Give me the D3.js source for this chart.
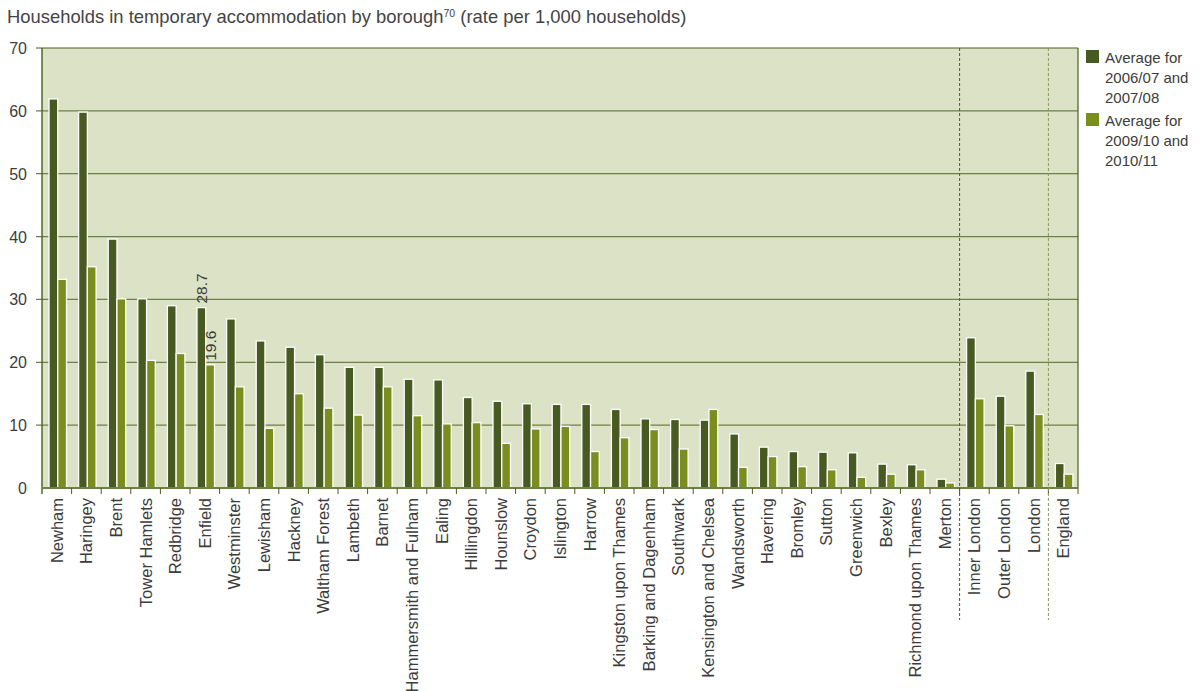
<!DOCTYPE html>
<html>
<head>
<meta charset="utf-8">
<script src="https://cdn.jsdelivr.net/npm/d3@7"></script>
<style>
  body { margin: 0; background: #fff; }
  text { font-family: "Liberation Sans", Arial, sans-serif; fill: #3c3c3c; }
</style>
</head>
<body>
<div id="chart"></div>
<script>
// Data
var boroughs = ["Newham", "Haringey", "Brent", "Tower Hamlets", "Redbridge", "Enfield",
    "Westminster", "Lewisham", "Hackney", "Waltham Forest", "Lambeth", "Barnet",
    "Hammersmith and Fulham", "Ealing", "Hillingdon", "Hounslow", "Croydon", "Islington",
    "Harrow", "Kingston upon Thames", "Barking and Dagenham", "Southwark",
    "Kensington and Chelsea", "Wandsworth", "Havering", "Bromley", "Sutton", "Greenwich",
    "Bexley", "Richmond upon Thames", "Merton", "Inner London", "Outer London", "London",
    "England"];
var avg0708 = [61.9, 59.8, 39.6, 30.1, 29.0, 28.7, 26.9, 23.4, 22.4, 21.2, 19.2, 19.2,
    17.3, 17.2, 14.4, 13.8, 13.4, 13.3, 13.3, 12.5, 11.0, 10.9, 10.8, 8.6, 6.5, 5.8,
    5.7, 5.6, 3.8, 3.7, 1.4, 23.9, 14.6, 18.6, 3.9];
var avg1011 = [33.2, 35.2, 30.1, 20.3, 21.4, 19.6, 16.1, 9.5, 15.0, 12.7, 11.6, 16.1,
    11.5, 10.2, 10.4, 7.1, 9.4, 9.8, 5.8, 8.0, 9.3, 6.2, 12.5, 3.3, 5.0, 3.4,
    2.9, 1.7, 2.2, 2.9, 0.8, 14.2, 9.9, 11.7, 2.2];
var seriesNames = ["Average for 2006/07 and 2007/08", "Average for 2009/10 and 2010/11"];
var legendLines = [["Average for", "2006/07 and", "2007/08"], ["Average for", "2009/10 and", "2010/11"]];
var yTicks = [0, 10, 20, 30, 40, 50, 60, 70];
var separators = ["Inner London", "England"];
var labelled = "Enfield";

var colors = ["#465a22", "#7a8e20"];

var width = 1203, height = 691;
var pLeft = 42, pRight = 1078, pTop = 48, pBottom = 488;

var svg = d3.select("#chart").append("svg")
    .attr("width", width)
    .attr("height", height);

// title
var title = svg.append("text")
    .attr("x", 7)
    .attr("y", 23)
    .style("font-size", "18.4px")
    .style("fill", "#444");
title.append("tspan").text("Households in temporary accommodation by borough");
title.append("tspan").text("70").attr("dy", -6).style("font-size", "10.5px");
title.append("tspan").text(" (rate per 1,000 households)").attr("dy", 6);

var x = d3.scaleBand().domain(boroughs).range([pLeft, pRight]);
var x1 = d3.scaleBand().domain([0, 1]).range([7, 24.5]);
var y = d3.scaleLinear().domain([0, 70]).range([pBottom, pTop]);

// plot background
svg.append("rect")
    .attr("x", pLeft).attr("y", pTop)
    .attr("width", pRight - pLeft).attr("height", pBottom - pTop)
    .attr("fill", "#dce2c5");

// gridlines + y ticks
svg.append("g").selectAll("line")
    .data(yTicks.filter(d => d > 0 && d < 70))
    .enter().append("line")
    .attr("x1", pLeft - 6).attr("x2", pRight)
    .attr("y1", d => y(d)).attr("y2", d => y(d))
    .attr("stroke", "#6e7f47").attr("stroke-width", 1.2);

svg.append("g").selectAll("text")
    .data(yTicks)
    .enter().append("text")
    .attr("x", 27)
    .attr("y", d => y(d) + 6)
    .attr("text-anchor", "end")
    .style("font-size", "16px")
    .text(d => d);

// frame
svg.append("line").attr("x1", pLeft - 6).attr("x2", pRight).attr("y1", pTop).attr("y2", pTop)
    .attr("stroke", "#4a5e20").attr("stroke-width", 1.2);
svg.append("line").attr("x1", pRight).attr("x2", pRight).attr("y1", pTop).attr("y2", pBottom)
    .attr("stroke", "#4a5e20").attr("stroke-width", 1.2);
svg.append("line").attr("x1", pLeft).attr("x2", pLeft).attr("y1", pTop).attr("y2", pBottom + 6)
    .attr("stroke", "#4a5e20").attr("stroke-width", 1.4);

// bars
var groups = svg.append("g").selectAll("g")
    .data(boroughs)
    .enter().append("g")
    .attr("transform", d => "translate(" + x(d) + ",0)");

groups.selectAll("rect")
    .data((d, i) => [avg0708[i], avg1011[i]])
    .enter().append("rect")
    .attr("x", (d, j) => x1(j))
    .attr("width", x1.bandwidth())
    .attr("y", d => y(d))
    .attr("height", d => pBottom - y(d))
    .attr("fill", (d, j) => colors[j])
    .attr("stroke", "#fff")
    .attr("stroke-width", 1.3);

// x axis
svg.append("line").attr("x1", pLeft).attr("x2", pRight).attr("y1", pBottom).attr("y2", pBottom)
    .attr("stroke", "#6e7f47").attr("stroke-width", 2);
svg.append("g").selectAll("line")
    .data(boroughs.slice(1))
    .enter().append("line")
    .attr("x1", d => x(d)).attr("x2", d => x(d))
    .attr("y1", pBottom).attr("y2", pBottom + 6)
    .attr("stroke", "#4a5e20");
svg.append("line").attr("x1", pRight).attr("x2", pRight).attr("y1", pBottom).attr("y2", pBottom + 6)
    .attr("stroke", "#4a5e20");

svg.append("g").selectAll("text")
    .data(boroughs)
    .enter().append("text")
    .attr("transform", d => "translate(" + (x(d) + x.bandwidth() / 2 + 6) + "," + (pBottom + 10) + ") rotate(-90)")
    .attr("text-anchor", "end")
    .style("font-size", "16.5px")
    .text(d => d);

// dotted separators
svg.append("g").selectAll("line")
    .data(separators)
    .enter().append("line")
    .attr("x1", d => x(d)).attr("x2", d => x(d))
    .attr("y1", pTop).attr("y2", 620)
    .attr("stroke", (d, i) => i ? "#8a9460" : "#4a5e20")
    .attr("stroke-width", 1)
    .attr("stroke-dasharray", "3,2");

// value labels for Enfield
var ei = boroughs.indexOf(labelled);
[avg0708[ei], avg1011[ei]].forEach(function(v, j) {
    svg.append("text")
        .attr("transform", "translate(" + (x(labelled) + x1(j) + x1.bandwidth() / 2 + 5.5) + "," + (y(v) - 4) + ") rotate(-90)")
        .style("font-size", "15.5px")
        .text(v.toFixed(1));
});

// legend
var legend = svg.append("g").selectAll("g")
    .data(seriesNames)
    .enter().append("g")
    .attr("transform", (d, i) => "translate(1086," + (50 + i * 63) + ")");
legend.append("rect")
    .attr("width", 13).attr("height", 13)
    .attr("fill", (d, i) => colors[i]);
legend.append("text")
    .attr("x", 19)
    .attr("y", 13)
    .style("font-size", "15px")
    .selectAll("tspan")
    .data((d, i) => legendLines[i])
    .enter().append("tspan")
    .attr("x", 19)
    .attr("dy", (d, k) => k ? 20 : 0)
    .text(d => d);
</script>
</body>
</html>
